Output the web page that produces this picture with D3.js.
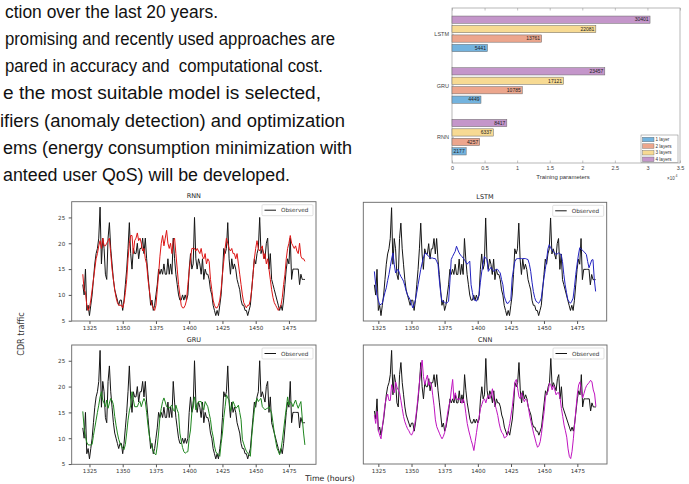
<!DOCTYPE html>
<html>
<head>
<meta charset="utf-8">
<script src="https://cdn.jsdelivr.net/npm/d3@7"></script>
<style>
body { margin: 0; background: #fff; }
svg { display: block; }
</style>
</head>
<body>
<div id="view"></div>
<script>
var width = 689, height = 484;
var svg = null;

// slide text (left part is cut off in the original)
var slideLines = [
	"ction over the last 20 years.",
	"promising and recently used approaches are",
	"pared in accuracy and  computational cost.",
	"e the most suitable model is selected,",
	"ifiers (anomaly detection) and optimization",
	"ems (energy consumption minimization with",
	"anteed user QoS) will be developed."
];

// bar chart : training parameters
var modelNames = ["LSTM", "GRU", "RNN"];
var layerLabels = ["1 layer", "2 layers", "3 layers", "4 layers"];
var lstmParams = [5441, 13761, 22081, 30401];
var gruParams = [4449, 10785, 17121, 23457];
var rnnParams = [2177, 4257, 6337, 8417];
var paramTicks = [0, 5000, 10000, 15000, 20000, 25000, 30000, 35000];

// line charts : CDR traffic
var hourTicks = [1325, 1350, 1375, 1400, 1425, 1450, 1475];
var trafficTicks = [5, 10, 15, 20, 25];
var rnnStart = 1320, gruStart = 1320, lstmStart = 1322, cnnStart = 1322;

var observed = [
	12, 10, 15, 7, 8, 6, 8, 10, 13, 16,
	18, 19, 21, 27, 16, 21, 19, 14, 13, 21,
	24, 19, 16, 13, 11, 10, 9, 8, 9, 9,
	7, 9, 12, 15, 19, 24, 18, 15, 19, 18,
	18, 20, 17, 19, 19, 21, 18, 21, 17, 14,
	11, 8, 9, 7, 8, 10, 12, 15, 14, 15,
	14, 16, 14, 14, 17, 14, 16, 14, 21, 17,
	14, 12, 10, 9, 9, 10, 9, 10, 9, 10,
	15, 18, 15, 16, 25, 17, 15, 17, 16, 14,
	17, 13, 15, 14, 14, 13, 11, 10, 8, 7,
	6, 7, 6, 8, 10, 14, 19, 18, 19, 24,
	17, 14, 17, 15, 16, 15, 13, 12, 11, 9,
	8, 8, 7, 7, 6, 7, 8, 11, 14, 17,
	16, 18, 19, 25, 18, 19, 18, 17, 20, 21,
	15, 18, 13, 12, 11, 10, 9, 8, 7, 8,
	7, 9, 12, 15, 17, 16, 21, 13, 15, 15,
	15, 15, 15, 12, 14, 13, 13, 13
];

var rnnPred = [
	14, 11, 10.5, 8, 7, 7.5, 9, 11, 13, 15,
	17, 18, 19.5, 20.5, 19, 21, 19.5, 19.5, 20, 20.5,
	21, 18, 15, 13, 11, 9.5, 8.5, 8, 8, 8,
	7.5, 8.5, 10.5, 13, 17, 20, 21.5, 21.5, 18, 20.5,
	21, 22, 20.5, 21, 20, 18.5, 19, 17, 16, 13,
	11, 9, 8, 7.5, 7, 8, 11, 14, 17.5, 20,
	21.5, 19.5, 21, 22.5, 20, 19, 20, 18, 20.5, 21,
	18, 15, 12, 10, 8, 7.5, 7.5, 8, 9, 12,
	14.5, 17, 19, 19, 19, 18.5, 19, 18.5, 18, 19,
	17.5, 17, 18, 16, 17, 16.5, 13, 11, 9, 8,
	7.5, 7.5, 8, 9, 11, 14, 16.5, 19, 21, 20,
	19, 18.5, 19, 18, 18, 17, 18, 16, 14, 12,
	10, 8.5, 8, 7.5, 8, 8, 9, 11, 14, 17,
	19, 20.5, 19, 18.5, 19, 19.5, 17, 18, 16, 17,
	15, 13, 11, 9.5, 8.5, 8, 7.5, 7, 7.5, 8,
	9.5, 12, 14, 17, 19, 20, 21.5, 20, 19.5, 19,
	19.5, 18.5, 18, 20, 17.5, 17, 17, 16.5
];

var lstmPred = [
	14.6, 12, 10, 9, 8.1, 8.2, 8.4, 9.5, 10.5, 11.4,
	12.8, 14, 15.5, 17, 18.2, 16, 14.3, 14.8, 15, 14.2,
	13.6, 13.2, 12.7, 11.8, 10.8, 10, 9.6, 9.1, 8.3, 7.5,
	8.2, 9.1, 10.5, 12, 13.5, 15, 16.2, 17.2, 18, 18.2,
	17.8, 17.5, 17.3, 17.2, 17.2, 17.1, 17.1, 16.6, 16, 13,
	10.5, 8.8, 8.7, 8.6, 8.4, 8.5, 8.8, 12.5, 16.9, 17.5,
	18, 18.5, 19.5, 18.8, 18.2, 17.8, 17.5, 17.2, 16.9, 16.4,
	16, 16.3, 16.6, 12, 10.5, 9.1, 9, 8.8, 9.4, 10,
	12.5, 14.5, 16, 17.5, 17.2, 16.9, 14.6, 15, 15.4, 15,
	14.6, 14.8, 15, 15, 14.6, 14.3, 13, 12, 9.8, 9,
	8.4, 8.4, 8.8, 9.1, 13.3, 15, 16.5, 17, 17.1, 17.1,
	17.1, 17.1, 17.1, 17.1, 17.1, 17, 16.9, 16, 14.6, 12.5,
	10.7, 9.5, 8.8, 8.6, 8.4, 8.8, 9.4, 11.5, 13.3, 15,
	16.9, 19, 19.8, 19.2, 18.8, 18.5, 18.2, 17.9, 18, 18.2,
	18, 17.9, 16.5, 14, 12, 10.5, 9.1, 8.7, 8.4, 8.8,
	9.4, 11.5, 14, 16, 17.8, 19.2, 19, 18.7, 18.5, 18.2,
	17.9, 16.5, 15.3, 16, 16.8, 16.9, 13, 10.7
];

var gruPred = [
	15.2, 12, 10.3, 9.2, 8.7, 8.7, 8.7, 8.8, 10.5, 12,
	13.5, 15, 16.4, 18, 19, 17.4, 16.8, 16.1, 17.4, 15.8,
	16.8, 17.7, 17.3, 16.5, 14.2, 12.5, 11, 9.8, 9, 8.5,
	8.1, 7.8, 8.8, 11, 13.5, 15.3, 16.4, 19, 17.5, 16.1,
	16.1, 16.1, 16.8, 17.1, 16.1, 17, 17.7, 17.1, 15, 12.5,
	10.5, 9.2, 8.4, 7.5, 7, 6.8, 8.5, 11, 14.2, 15.8,
	17.1, 17.8, 17, 16.1, 16, 15.8, 16.2, 16.4, 15.5, 15.2,
	16.4, 15.5, 14.8, 11, 9.5, 8.2, 7.4, 7.1, 7.3, 7.4,
	10, 11.6, 15, 17, 18, 15.5, 16.5, 17.1, 17.1, 17.1,
	16, 15.5, 17.1, 16.6, 16.1, 14.8, 13.6, 11.5, 10.3, 8.5,
	7.4, 7, 6.8, 6.5, 9, 11, 14, 16.1, 18.4, 17.8,
	17.4, 15.2, 16, 17.1, 16.5, 15.8, 16, 16.4, 15, 13.6,
	9.7, 8.9, 8.1, 7.5, 7.1, 6.8, 6.5, 10.3, 13, 15.5,
	17, 17.7, 17.1, 17.5, 17.7, 16.1, 15.8, 15.5, 15.7, 15.8,
	16.1, 15.5, 14.8, 13, 11, 9.5, 8.1, 7.5, 6.8, 7.8,
	9.5, 11.6, 13.8, 15.8, 18, 16.4, 17.1, 16.8, 16.1, 16.8,
	17.4, 16.5, 15.8, 16.5, 17.1, 13.9, 11, 8.7
];

var cnnPred = [
	11, 8.9, 11.9, 7.3, 6, 5.1, 8, 10.6, 13.6, 15.2,
	16.2, 14.6, 14.6, 18.5, 17.2, 16.5, 19.2, 17.9, 17.2, 16.5,
	14.6, 12.6, 10.6, 9.3, 8.4, 7.6, 7.1, 6.4, 6, 6.7,
	7.7, 10, 12.6, 15.9, 19.2, 22.5, 24.6, 20.5, 18.5, 19.8,
	20.9, 18.3, 19.2, 18.5, 15.9, 13.3, 9.8, 8.1, 7.3, 6.5,
	5.7, 5.1, 5.7, 6.7, 8.6, 11, 13, 14.2, 17.2, 19.8,
	14.8, 16.5, 15.2, 14.7, 15.2, 14.6, 13.9, 15, 13.9, 11.3,
	8.9, 7.3, 6, 4.7, 3.6, 2.2, 4.4, 6.7, 8.9, 10.6,
	12.6, 13.6, 14.6, 15, 14, 15.2, 15.9, 15, 15.9, 17.5,
	14.6, 13.5, 12.3, 10.9, 9, 7.6, 6.7, 6.3, 5.3, 5.5,
	5.9, 7.3, 8.9, 11, 13.1, 16.2, 19.2, 19.8, 17.6, 15.5,
	15, 16.5, 15.1, 14.3, 15, 14.6, 13.1, 11, 9.4, 8,
	6.5, 5.3, 4, 3, 3.4, 4.4, 6.5, 9.3, 11.9, 15.5,
	16.5, 16.9, 18.9, 18.5, 17.2, 18.3, 17.2, 16, 16.5, 16.5,
	15.2, 12.6, 10.6, 8.5, 7.1, 5.5, 2.6, 0.7, 0.2, 2,
	5.1, 8.9, 12.6, 16.2, 18.5, 19.2, 16.9, 15.2, 16.3, 17.5,
	18.3, 18.7, 19.1, 19.6, 19.2, 17.2, 16.2, 13.1
];

var sans = "'Liberation Sans', Arial, sans-serif";
var mpl = "'DejaVu Sans', sans-serif";

svg = d3.select("#view").append("svg")
	.attr("width", width)
	.attr("height", height);

svg.append("rect").attr("width", width).attr("height", height).attr("fill", "#fff");

// ---------- slide text ----------
var lineLeft = [5, 5, 5, 3, 0, 3, 3];
var lineRight = [218, 335, 323, 321, 345, 352, 290];
svg.selectAll(".slide")
	.data(slideLines).enter()
	.append("text")
	.attr("class", "slide")
	.attr("x", function(d, i) { return lineLeft[i]; })
	.attr("y", function(d, i) { return 17.5 + i * 27.3; })
	.attr("textLength", function(d, i) { return lineRight[i] - lineLeft[i]; })
	.attr("lengthAdjust", "spacingAndGlyphs")
	.style("white-space", "pre")
	.attr("font-family", sans)
	.attr("font-size", 17.5)
	.attr("fill", "#111")
	.text(function(d) { return d; });

// ---------- bar chart ----------
var bx = d3.scaleLinear().domain([0, 35000]).range([452, 680]);
var by = d3.scaleBand().domain(modelNames).range([8, 163]);
var bsub = d3.scaleBand().domain(["4 layers", "3 layers", "2 layers", "1 layer"])
	.range([0, by.bandwidth()]).paddingInner(0.23).paddingOuter(0.85);
var layerColors = d3.scaleOrdinal().domain(layerLabels)
	.range(["#73b3de", "#eca68d", "#f7da93", "#c496ca"]);

var paramsOf = { "LSTM": lstmParams, "GRU": gruParams, "RNN": rnnParams };
var barRows = [];
modelNames.forEach(function(m) {
	layerLabels.forEach(function(l, k) {
		barRows.push({ model: m, layer: l, value: paramsOf[m][k] });
	});
});

var bar = svg.append("g");
bar.append("rect")
	.attr("x", bx(0)).attr("y", 8)
	.attr("width", bx(35000) - bx(0)).attr("height", 155)
	.attr("fill", "#fff").attr("stroke", "#999").attr("stroke-width", 0.7);

bar.selectAll(".bar")
	.data(barRows).enter()
	.append("rect")
	.attr("class", "bar")
	.attr("x", bx(0))
	.attr("y", function(d) { return by(d.model) + bsub(d.layer); })
	.attr("width", function(d) { return bx(d.value) - bx(0); })
	.attr("height", bsub.bandwidth())
	.attr("fill", function(d) { return layerColors(d.layer); })
	.attr("stroke", "#666").attr("stroke-width", 0.5);

bar.selectAll(".blabel")
	.data(barRows).enter()
	.append("text")
	.attr("class", "blabel")
	.attr("x", function(d) { return bx(d.value) - 1.5; })
	.attr("y", function(d) { return by(d.model) + bsub(d.layer) + bsub.bandwidth() / 2 + 1.8; })
	.attr("text-anchor", "end")
	.attr("font-family", sans).attr("font-size", 5)
	.attr("fill", "#222")
	.text(function(d) { return d.value; });

var bAxis = bar.append("g")
	.attr("transform", "translate(0,163)")
	.call(d3.axisBottom(bx).tickValues(paramTicks)
		.tickFormat(function(d) { return d / 10000; })
		.tickSizeInner(-2.5).tickSizeOuter(0).tickPadding(3.5));
bAxis.select(".domain").remove();
bAxis.selectAll("line").attr("stroke", "#999").attr("stroke-width", 0.6);
bAxis.selectAll("text").attr("font-family", sans).attr("font-size", 5.5).attr("fill", "#444");

var bTop = bar.append("g")
	.attr("transform", "translate(0,8)")
	.call(d3.axisTop(bx).tickValues(paramTicks).tickFormat("").tickSizeInner(-2.5).tickSizeOuter(0));
bTop.select(".domain").remove();
bTop.selectAll("line").attr("stroke", "#999").attr("stroke-width", 0.6);

var bLeft = bar.append("g")
	.attr("transform", "translate(" + bx(0) + ",0)")
	.call(d3.axisLeft(d3.scalePoint().domain(modelNames).range([by("LSTM") + by.bandwidth() / 2, by("RNN") + by.bandwidth() / 2]))
		.tickSizeInner(-2).tickSizeOuter(0).tickPadding(3));
bLeft.select(".domain").remove();
bLeft.selectAll("line").attr("stroke", "#999").attr("stroke-width", 0.6);
bLeft.selectAll("text").attr("font-family", sans).attr("font-size", 5.5).attr("fill", "#444");

bar.append("text")
	.attr("x", 563).attr("y", 178.5)
	.attr("text-anchor", "middle")
	.attr("font-family", sans).attr("font-size", 6)
	.attr("fill", "#333")
	.text("Training parameters");
bar.append("text")
	.attr("x", 667).attr("y", 180)
	.attr("font-family", sans).attr("font-size", 4.5)
	.attr("fill", "#444")
	.text("\u00d710");
bar.append("text")
	.attr("x", 675.5).attr("y", 177)
	.attr("font-family", sans).attr("font-size", 3.5)
	.attr("fill", "#444")
	.text("4");

// legend
var bl = bar.append("g").attr("transform", "translate(641,135)");
bl.append("rect").attr("width", 37).attr("height", 27.5)
	.attr("fill", "#fff").attr("stroke", "#777").attr("stroke-width", 0.5);
var blItem = bl.selectAll(".bl")
	.data(layerLabels).enter()
	.append("g")
	.attr("transform", function(d, i) { return "translate(1.5," + (2.2 + i * 6.6) + ")"; });
blItem.append("rect")
	.attr("width", 11.5).attr("height", 4.6)
	.attr("fill", function(d) { return layerColors(d); })
	.attr("stroke", "#666").attr("stroke-width", 0.4);
blItem.append("text")
	.attr("x", 13).attr("y", 4)
	.attr("font-family", sans).attr("font-size", 4.6)
	.attr("fill", "#333")
	.text(function(d) { return d; });

// ---------- line charts ----------
function drawPanel(p) {
	var g = svg.append("g");
	var n = p.values.length;
	var hx = [p.start, p.start + n - 1];
	var hpad = (hx[1] - hx[0]) * 0.05;
	var x = d3.scaleLinear().domain([hx[0] - hpad, hx[1] + hpad]).range([p.x0, p.x1]);
	var vy = d3.extent(observed.concat(p.values));
	var vpad = (vy[1] - vy[0]) * 0.05;
	var y = d3.scaleLinear().domain([vy[0] - vpad, vy[1] + vpad]).range([p.y1, p.y0]);

	var line = d3.line()
		.x(function(d, i) { return x(p.start + i); })
		.y(function(d) { return y(d); });

	g.append("path").datum(observed)
		.attr("d", line).attr("fill", "none")
		.attr("stroke", "#151515").attr("stroke-width", 1);
	g.append("path").datum(p.values)
		.attr("d", line).attr("fill", "none")
		.attr("stroke", p.color).attr("stroke-width", 1);

	g.append("rect")
		.attr("x", p.x0).attr("y", p.y0)
		.attr("width", p.x1 - p.x0).attr("height", p.y1 - p.y0)
		.attr("fill", "none").attr("stroke", "#666").attr("stroke-width", 0.9);

	var xa = g.append("g")
		.attr("transform", "translate(0," + p.y1 + ")")
		.call(d3.axisBottom(x).tickValues(hourTicks).tickFormat(d3.format("d"))
			.tickSizeInner(3).tickSizeOuter(0).tickPadding(2));
	xa.select(".domain").remove();
	xa.selectAll("line").attr("stroke", "#555");
	xa.selectAll("text").attr("font-family", mpl).attr("font-size", 5.6).attr("fill", "#333");

	if (p.yLabels) {
		var ya = g.append("g")
			.attr("transform", "translate(" + p.x0 + ",0)")
			.call(d3.axisLeft(y).tickValues(trafficTicks).tickSizeInner(3).tickSizeOuter(0).tickPadding(3.5));
		ya.select(".domain").remove();
		ya.selectAll("line").attr("stroke", "#555");
		ya.selectAll("text").attr("font-family", mpl).attr("font-size", 5.6).attr("fill", "#333");
	}

	g.append("text")
		.attr("x", (p.x0 + p.x1) / 2).attr("y", p.y0 - 3.5)
		.attr("text-anchor", "middle")
		.attr("font-family", mpl).attr("font-size", 6.5)
		.attr("fill", "#222")
		.text(p.title);

	var lg = g.append("g").attr("transform", "translate(" + (p.x1 - 54) + "," + (p.y0 + 3) + ")");
	lg.append("rect").attr("width", 51).attr("height", 11).attr("rx", 1)
		.attr("fill", "#fff").attr("stroke", "#ccc").attr("stroke-width", 0.6);
	lg.append("line").attr("x1", 2.5).attr("x2", 14).attr("y1", 5.5).attr("y2", 5.5)
		.attr("stroke", "#151515").attr("stroke-width", 1);
	lg.append("text").attr("x", 19).attr("y", 7.5)
		.attr("font-family", mpl).attr("font-size", 5.7)
		.attr("fill", "#333")
		.text("Observed");
}

drawPanel({ title: "RNN", values: rnnPred, start: rnnStart, color: "#dd1515", x0: 71.7, x1: 316, y0: 201.7, y1: 321, yLabels: true });
drawPanel({ title: "LSTM", values: lstmPred, start: lstmStart, color: "#2222c0", x0: 363.3, x1: 606.7, y0: 202.3, y1: 321, yLabels: false });
drawPanel({ title: "GRU", values: gruPred, start: gruStart, color: "#1f861f", x0: 71.7, x1: 316, y0: 345, y1: 464.3, yLabels: true });
drawPanel({ title: "CNN", values: cnnPred, start: cnnStart, color: "#c014c0", x0: 363.3, x1: 607, y0: 345, y1: 464, yLabels: false });

svg.append("text")
	.attr("transform", "translate(24,334) rotate(-90)")
	.attr("text-anchor", "middle")
	.attr("font-family", mpl).attr("font-size", 8)
	.attr("fill", "#333")
	.text("CDR traffic");

svg.append("text")
	.attr("x", 330).attr("y", 480.5)
	.attr("text-anchor", "middle")
	.attr("font-family", mpl).attr("font-size", 7.8)
	.attr("fill", "#222")
	.text("Time (hours)");
</script>
</body>
</html>
